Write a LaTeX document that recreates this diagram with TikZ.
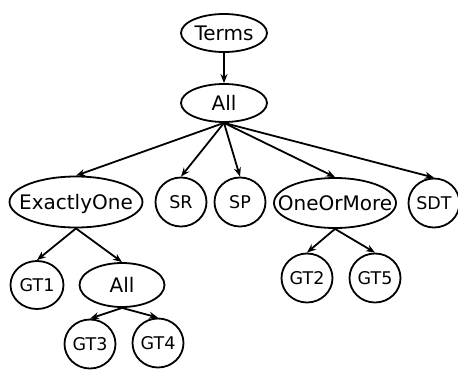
\documentclass[tikz,border=0pt]{standalone}
\usepackage{fontspec}
\setmainfont{DejaVu Sans}
\usetikzlibrary{shapes.geometric,arrows.meta}

\begin{document}
\begin{tikzpicture}[x=1pt,y=-1pt,>={Stealth[length=9pt,width=7pt]},line width=1.8pt,
  oval/.style={ellipse,draw,inner sep=0pt,text depth=0pt,
    execute at begin node={\hbox to 0pt\bgroup\hss},execute at end node={\hss\egroup}},
  big/.style={oval,text height=14.6pt,font=\fontsize{20}{22}\selectfont},
  small/.style={oval,text height=12.8pt,minimum width=51pt,minimum height=49pt,font=\fontsize{17.5}{19}\selectfont}]
 % \draw[help lines] (0,0) grid (458,370);
  \useasboundingbox (0,0) rectangle (458,370);
  \node[big,minimum width=86pt,minimum height=38pt] (terms) at (224,33)  {Terms};
  \node[big,minimum width=86pt,minimum height=38pt] (all)   at (224,103) {All};
  \node[big,minimum width=133pt,minimum height=51pt] (ex)   at (76,202)  {ExactlyOne};
  \node[small] (sr)  at (181,202) {SR};
  \node[small] (sp)  at (240,202) {SP};
  \node[big,minimum width=122pt,minimum height=50pt] (oom)  at (335,203) {OneOrMore};
  \node[small] (sdt) at (434,203) {SDT};
  \node[small,minimum width=53pt,minimum height=48pt] (gt1) at (37,285) {GT1};
  \node[big,minimum width=85pt,minimum height=44pt] (all2) at (122,285) {All};
  \node[small] (gt3) at (90,344)  {GT3};
  \node[small] (gt4) at (158,343) {GT4};
  \node[small] (gt2) at (307,278) {GT2};
  \node[small] (gt5) at (375,278) {GT5};
  \draw[->] (terms) -- (all);
  \foreach \c in {ex,sr,sp,oom,sdt}
    \draw[->] (all.south) -- (\c.north);
  \draw[->] (ex.south) -- (gt1.north);
  \draw[->] (ex.south) -- (all2.north);
  \draw[->] (all2.south) -- (gt3.north);
  \draw[->] (all2.south) -- (gt4.north);
  \draw[->] (oom.south) -- (gt2.north);
  \draw[->] (oom.south) -- (gt5.north);
\end{tikzpicture}
\end{document}
